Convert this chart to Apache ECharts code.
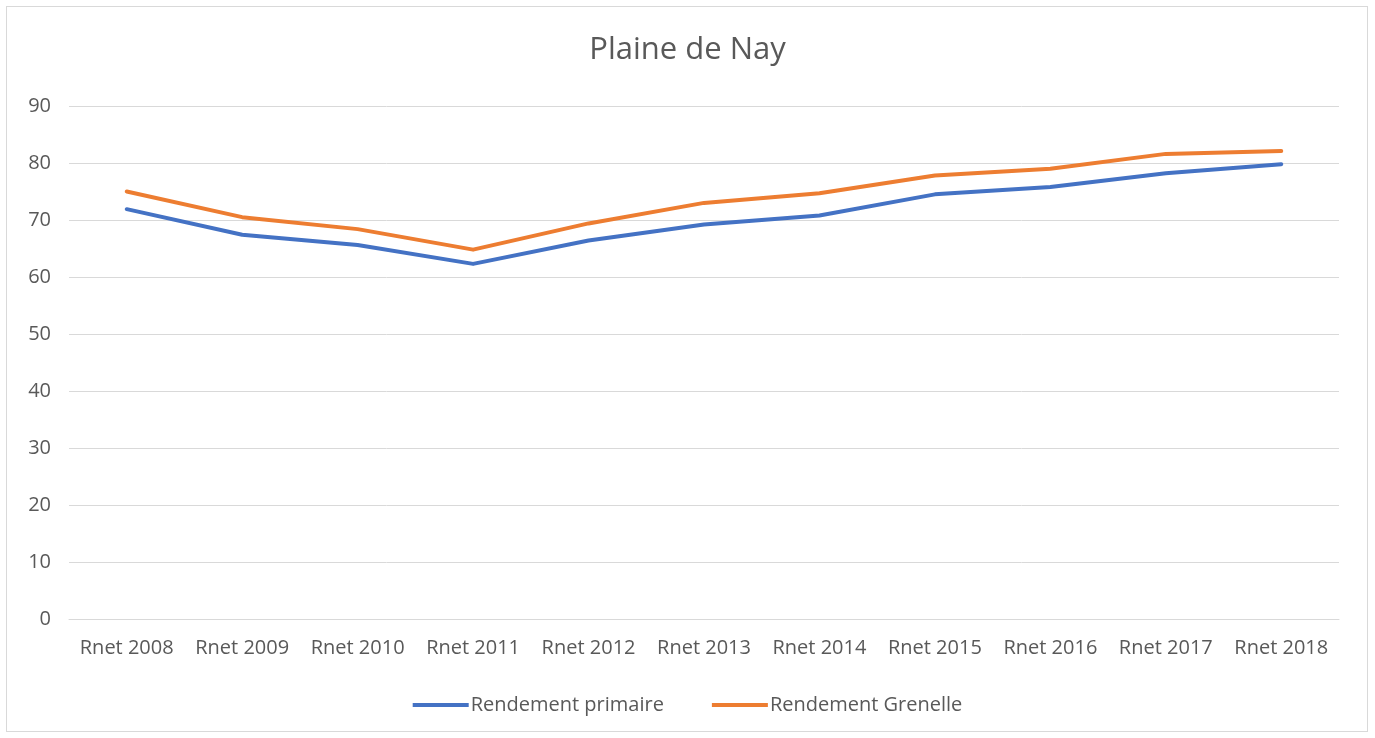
<!DOCTYPE html>
<html>
<head>
<meta charset="utf-8">
<script src="https://cdn.jsdelivr.net/npm/echarts@6/dist/echarts.min.js"></script>
<style>
  html, body { margin: 0; padding: 0; background: #fff; }
  #frame {
    position: absolute; left: 6px; top: 6px; width: 1362px; height: 726px;
    border: 1px solid #d9d9d9; box-sizing: border-box;
  }
  #chart { width: 1375px; height: 738px; }
</style>
</head>
<body>
<div id="frame"></div>
<div id="chart"></div>
<script>
const categories = ['Rnet 2008', 'Rnet 2009', 'Rnet 2010', 'Rnet 2011', 'Rnet 2012', 'Rnet 2013',
  'Rnet 2014', 'Rnet 2015', 'Rnet 2016', 'Rnet 2017', 'Rnet 2018']
const rendementPrimaire = [71.9, 67.4, 65.6, 62.3, 66.4, 69.2, 70.8, 74.5, 75.8, 78.2, 79.8]
const rendementGrenelle = [75.0, 70.5, 68.4, 64.8, 69.4, 73.0, 74.7, 77.8, 79.0, 81.6, 82.1]

const font = '"Open Sans", sans-serif'
const chart = echarts.init(document.getElementById('chart'))

chart.setOption({
  animation: false,
  title: {
    text: 'Plaine de Nay',
    left: 'center',
    top: 30,
    textStyle: { fontFamily: font, fontSize: 31, fontWeight: 'normal', color: '#595959' }
  },
  legend: {
    top: 690,
    left: 'center',
    itemWidth: 56,
    itemHeight: 4,
    itemGap: 48,
    icon: 'rect',
    textStyle: { fontFamily: font, fontSize: 20, color: '#595959', padding: [0, 0, 0, -3] },
    data: ['Rendement primaire', 'Rendement Grenelle']
  },
  grid: { left: 69, right: 36, top: 106, bottom: 119 },
  xAxis: {
    type: 'category',
    data: categories,
    axisLine: { lineStyle: { color: '#d9d9d9' } },
    axisTick: { show: false },
    axisLabel: { interval: 0, fontFamily: font, fontSize: 20, color: '#595959', margin: 19 }
  },
  yAxis: {
    type: 'value',
    min: 0,
    max: 90,
    interval: 10,
    axisLine: { show: false },
    axisTick: { show: false },
    splitLine: { lineStyle: { color: '#d9d9d9', width: 1 } },
    axisLabel: { fontFamily: font, fontSize: 20, color: '#595959', margin: 18 }
  },
  series: [
    {
      name: 'Rendement primaire',
      type: 'line',
      data: rendementPrimaire,
      showSymbol: false,
      symbol: 'none',
      color: '#4472C4',
      lineStyle: { width: 4, color: '#4472C4', cap: 'round', join: 'round' }
    },
    {
      name: 'Rendement Grenelle',
      type: 'line',
      data: rendementGrenelle,
      showSymbol: false,
      symbol: 'none',
      color: '#ED7D31',
      lineStyle: { width: 4, color: '#ED7D31', cap: 'round', join: 'round' }
    }
  ]
})
</script>
</body>
</html>
